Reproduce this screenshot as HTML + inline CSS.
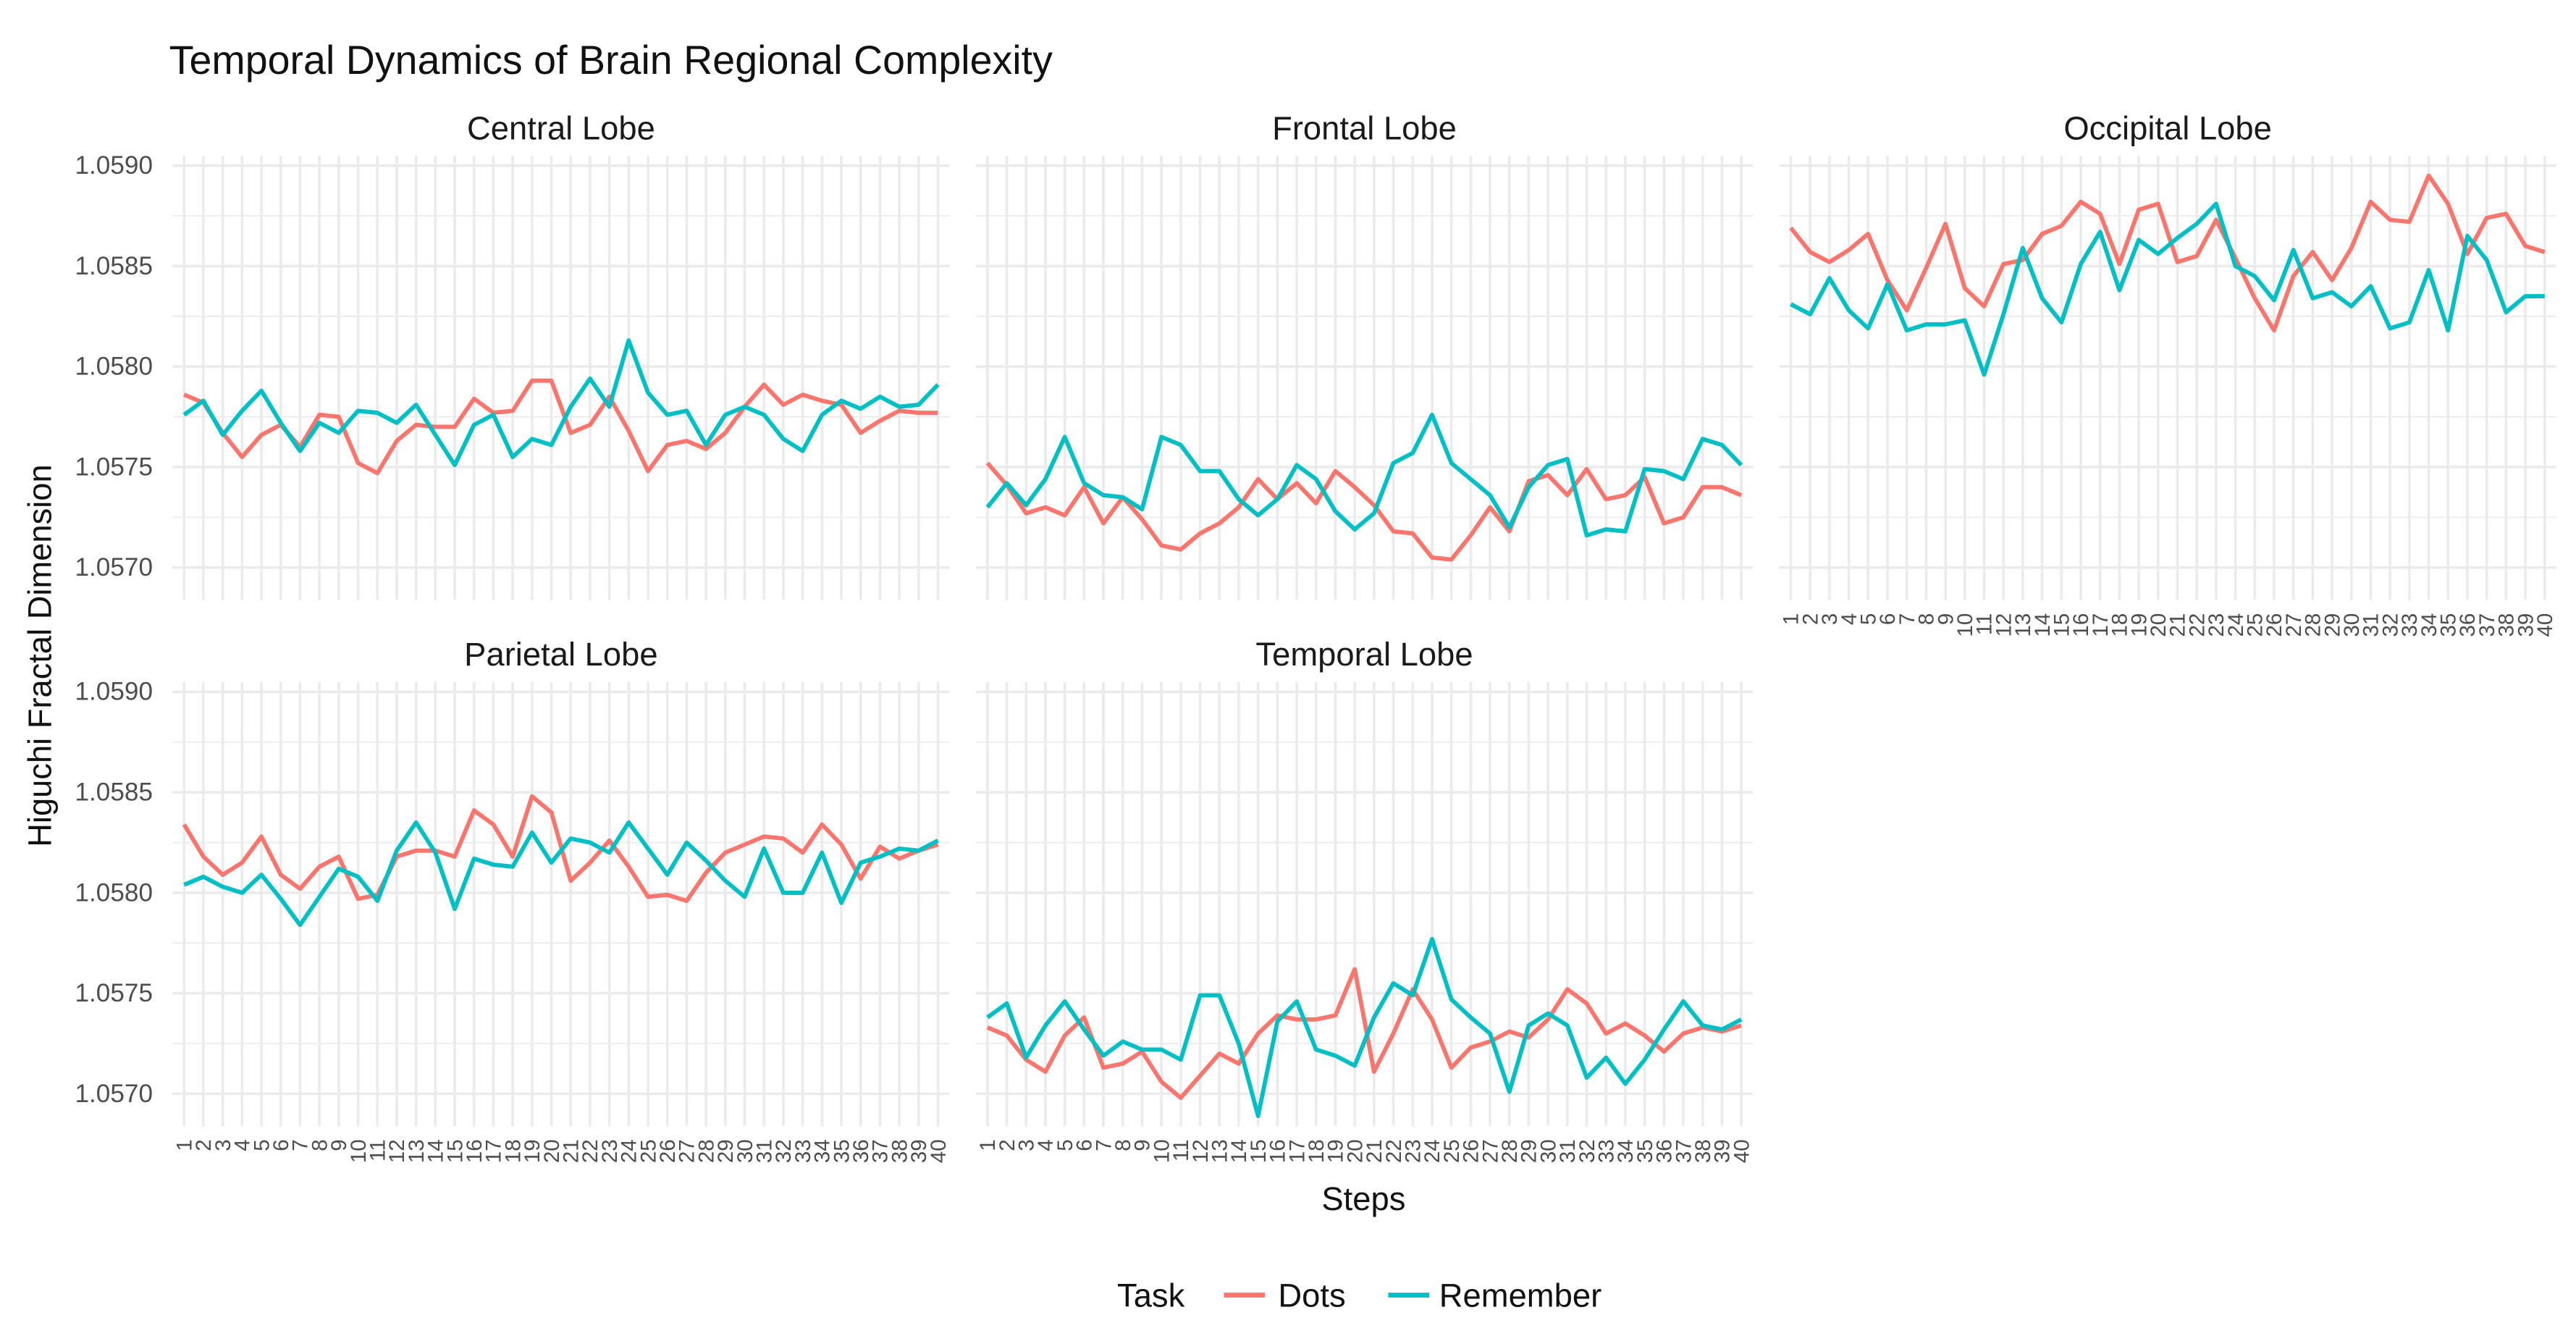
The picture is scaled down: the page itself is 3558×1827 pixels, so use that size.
<!DOCTYPE html>
<html><head><meta charset="utf-8">
<style>
html,body{margin:0;padding:0;background:#fff;}
svg{display:block;}
text{font-family:"Liberation Sans",Arial,sans-serif;}
</style></head>
<body>
<svg id="chart" width="3558" height="1827" viewBox="0 0 1568 807" preserveAspectRatio="none" xmlns="http://www.w3.org/2000/svg">
<text x="103" y="45" font-size="24.5" fill="#111">Temporal Dynamics of Brain Regional Complexity</text>
<text transform="translate(31,400) rotate(-90)" text-anchor="middle" font-size="20" fill="#111">Higuchi Fractal Dimension</text>
<text x="830" y="738" text-anchor="middle" font-size="20" fill="#111">Steps</text>
<g>
<text x="680" y="797" font-size="20" fill="#111">Task</text>
<line x1="745" y1="790" x2="770" y2="790" stroke="#F8766D" stroke-width="3"/>
<text x="778" y="797" font-size="20" fill="#111">Dots</text>
<line x1="845" y1="790" x2="870" y2="790" stroke="#00BFC4" stroke-width="3"/>
<text x="876" y="797" font-size="20" fill="#111">Remember</text>
</g>
<g id="panels"></g>
</svg>
<script>
const steps = Array.from({length:40},(_,i)=>String(i+1));
const yTicks = [1.0570,1.0575,1.0580,1.0585,1.0590];
const yTickLabels = ["1.0570","1.0575","1.0580","1.0585","1.0590"];
const regions = ["Central Lobe","Frontal Lobe","Occipital Lobe","Parietal Lobe","Temporal Lobe"];
const centralDots = [1.05786,1.05782,1.05767,1.05755,1.05766,1.05771,1.05760,1.05776,1.05775,1.05752,1.05747,1.05763,1.05771,1.05770,1.05770,1.05784,1.05777,1.05778,1.05793,1.05793,1.05767,1.05771,1.05785,1.05768,1.05748,1.05761,1.05763,1.05759,1.05767,1.05780,1.05791,1.05781,1.05786,1.05783,1.05781,1.05767,1.05773,1.05778,1.05777,1.05777];
const centralRemember = [1.05776,1.05783,1.05766,1.05778,1.05788,1.05772,1.05758,1.05772,1.05767,1.05778,1.05777,1.05772,1.05781,1.05766,1.05751,1.05771,1.05776,1.05755,1.05764,1.05761,1.05780,1.05794,1.05780,1.05813,1.05787,1.05776,1.05778,1.05761,1.05776,1.05780,1.05776,1.05764,1.05758,1.05776,1.05783,1.05779,1.05785,1.05780,1.05781,1.05791];
const frontalDots = [1.05752,1.05741,1.05727,1.05730,1.05726,1.05740,1.05722,1.05735,1.05724,1.05711,1.05709,1.05717,1.05722,1.05730,1.05744,1.05734,1.05742,1.05732,1.05748,1.05740,1.05731,1.05718,1.05717,1.05705,1.05704,1.05716,1.05730,1.05718,1.05743,1.05746,1.05736,1.05749,1.05734,1.05736,1.05745,1.05722,1.05725,1.05740,1.05740,1.05736];
const frontalRemember = [1.05730,1.05742,1.05731,1.05744,1.05765,1.05742,1.05736,1.05735,1.05729,1.05765,1.05761,1.05748,1.05748,1.05734,1.05726,1.05734,1.05751,1.05744,1.05728,1.05719,1.05727,1.05752,1.05757,1.05776,1.05752,1.05744,1.05736,1.05720,1.05740,1.05751,1.05754,1.05716,1.05719,1.05718,1.05749,1.05748,1.05744,1.05764,1.05761,1.05751];
const occipitalDots = [1.05869,1.05857,1.05852,1.05858,1.05866,1.05843,1.05828,1.05849,1.05871,1.05839,1.05830,1.05851,1.05853,1.05866,1.05870,1.05882,1.05876,1.05851,1.05878,1.05881,1.05852,1.05855,1.05873,1.05854,1.05834,1.05818,1.05845,1.05857,1.05843,1.05859,1.05882,1.05873,1.05872,1.05895,1.05881,1.05856,1.05874,1.05876,1.05860,1.05857];
const occipitalRemember = [1.05831,1.05826,1.05844,1.05828,1.05819,1.05841,1.05818,1.05821,1.05821,1.05823,1.05796,1.05826,1.05859,1.05834,1.05822,1.05851,1.05867,1.05838,1.05863,1.05856,1.05864,1.05871,1.05881,1.05850,1.05845,1.05833,1.05858,1.05834,1.05837,1.05830,1.05840,1.05819,1.05822,1.05848,1.05818,1.05865,1.05853,1.05827,1.05835,1.05835];
const parietalDots = [1.05834,1.05818,1.05809,1.05815,1.05828,1.05809,1.05802,1.05813,1.05818,1.05797,1.05799,1.05818,1.05821,1.05821,1.05818,1.05841,1.05834,1.05818,1.05848,1.05840,1.05806,1.05815,1.05826,1.05813,1.05798,1.05799,1.05796,1.05810,1.05820,1.05824,1.05828,1.05827,1.05820,1.05834,1.05824,1.05807,1.05823,1.05817,1.05821,1.05824];
const parietalRemember = [1.05804,1.05808,1.05803,1.05800,1.05809,1.05797,1.05784,1.05798,1.05812,1.05808,1.05796,1.05821,1.05835,1.05820,1.05792,1.05817,1.05814,1.05813,1.05830,1.05815,1.05827,1.05825,1.05820,1.05835,1.05822,1.05809,1.05825,1.05816,1.05806,1.05798,1.05822,1.05800,1.05800,1.05820,1.05795,1.05815,1.05818,1.05822,1.05821,1.05826];
const temporalDots = [1.05733,1.05729,1.05717,1.05711,1.05729,1.05738,1.05713,1.05715,1.05721,1.05706,1.05698,1.05709,1.05720,1.05715,1.05730,1.05739,1.05737,1.05737,1.05739,1.05762,1.05711,1.05730,1.05752,1.05737,1.05713,1.05723,1.05726,1.05731,1.05728,1.05737,1.05752,1.05745,1.05730,1.05735,1.05729,1.05721,1.05730,1.05733,1.05731,1.05734];
const temporalRemember = [1.05738,1.05745,1.05718,1.05734,1.05746,1.05732,1.05719,1.05726,1.05722,1.05722,1.05717,1.05749,1.05749,1.05725,1.05689,1.05736,1.05746,1.05722,1.05719,1.05714,1.05738,1.05755,1.05749,1.05777,1.05747,1.05738,1.05730,1.05701,1.05734,1.05740,1.05734,1.05708,1.05718,1.05705,1.05717,1.05732,1.05746,1.05734,1.05732,1.05737];

const seriesDots = [centralDots,frontalDots,occipitalDots,parietalDots,temporalDots];
const seriesRem = [centralRemember,frontalRemember,occipitalRemember,parietalRemember,temporalRemember];
const NS="http://www.w3.org/2000/svg";
const root=document.getElementById('panels');
const colX=[105,594,1083], panelW=473;
const rowY=[95,416], panelH=271;
function mk(tag,attrs,parent){const e=document.createElementNS(NS,tag);for(const k in attrs)e.setAttribute(k,attrs[k]);parent.appendChild(e);return e;}
function slug(s){return s.toLowerCase().replace(/\s+/g,'-');}
regions.forEach((reg,p)=>{
  const c=p%3, r=Math.floor(p/3);
  const x0=colX[c], y0=rowY[r];
  const unit=panelW/(steps.length-1+1.2);
  const xs=i=>x0+(0.6+i)*unit;
  const ys=v=>y0+6+(1.0590-v)/0.0005*61.3;
  const g=mk('g',{},root);
  
  
  const st=mk('text',{x:x0+panelW/2,y:y0-10,'text-anchor':'middle','font-size':20,fill:'#1a1a1a'},g);
  st.textContent=reg;
  
  
  for(let t=0;t<yTicks.length-1;t++){
    const m=(yTicks[t]+yTicks[t+1])/2;
    const l=mk('line',{x1:x0,x2:x0+panelW,y1:ys(m),y2:ys(m),stroke:'#EBEBEB','stroke-width':0.8},g);
    
    
  }
  steps.forEach((s,i)=>{
    const l=mk('line',{x1:xs(i),x2:xs(i),y1:y0,y2:y0+panelH,stroke:'#EBEBEB','stroke-width':1.6},g);
    
    
  });
  yTicks.forEach((t,k)=>{
    const l=mk('line',{x1:x0,x2:x0+panelW,y1:ys(t),y2:ys(t),stroke:'#EBEBEB','stroke-width':1.6},g);
    
    
    if(c===0){
      const tx=mk('text',{x:x0-12,y:ys(t)+5,'text-anchor':'end','font-size':15.5,fill:'#4d4d4d'},g);
      tx.textContent=yTickLabels[k];
      
      
    }
  });
  if(r===1 || c===2){
    steps.forEach((s,i)=>{
      const tx=mk('text',{transform:`translate(${xs(i)+4.5},${y0+panelH+8}) rotate(-90)`,'text-anchor':'end','font-size':13,fill:'#4d4d4d'},g);
      tx.textContent=s;
      
      
    });
  }
  [[seriesDots[p],'#F8766D','dots'],[seriesRem[p],'#00BFC4','remember']].forEach(([vals,col,nm])=>{
    const d=vals.map((v,i)=>(i?'L':'M')+xs(i).toFixed(2)+','+ys(v).toFixed(2)).join('');
    const path=mk('path',{d:d,fill:'none',stroke:col,'stroke-width':2.6,'stroke-linejoin':'round'},g);
    
    
  });
});
</script>
</body></html>
